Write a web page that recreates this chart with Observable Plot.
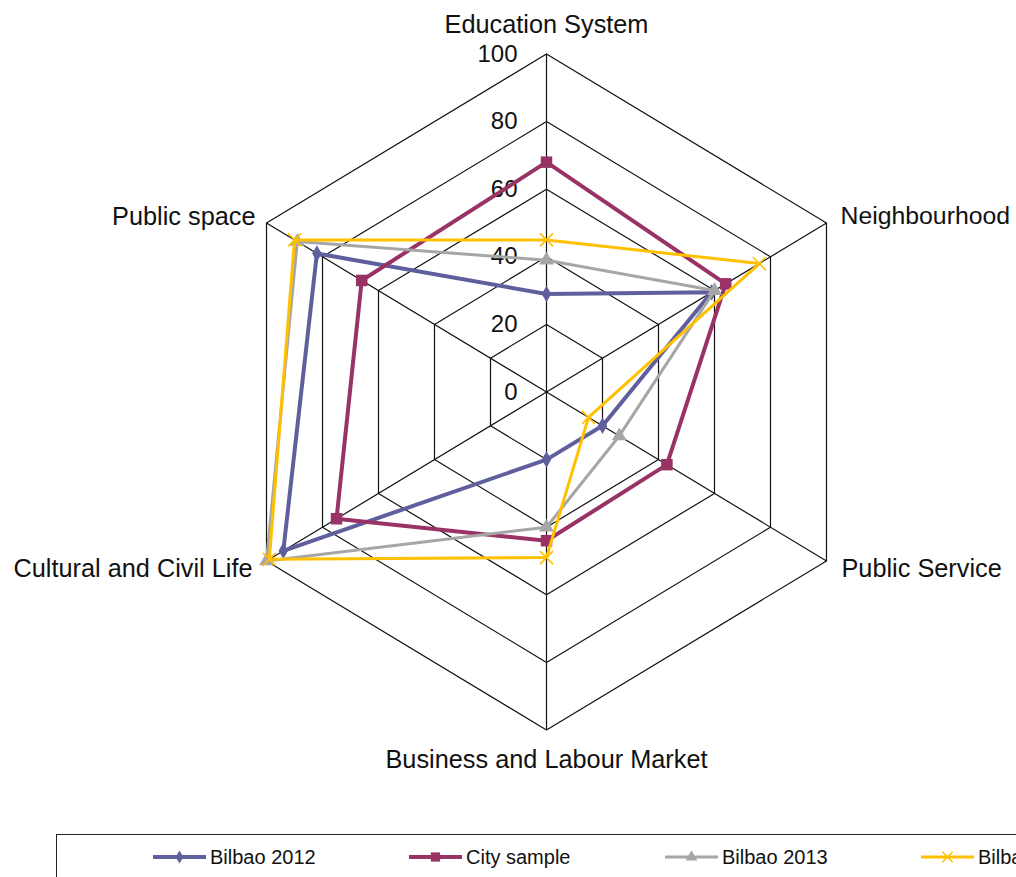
<!DOCTYPE html>
<html><head><meta charset="utf-8">
<script src="https://cdn.jsdelivr.net/npm/d3@7"></script>
<script src="https://cdn.jsdelivr.net/npm/@observablehq/plot@0.6"></script>
<style>
body{margin:0;background:#fff;font-family:"Liberation Sans",Arial,sans-serif;}
#wrap{position:relative;width:1016px;height:877px;overflow:hidden;background:#fff;}
#legendbox{position:absolute;left:56px;top:834px;width:1010px;height:70px;border:1.5px solid #222;box-sizing:border-box;}
.item{position:absolute;top:846px;height:22px;display:flex;align-items:center;font-size:20px;color:#111;white-space:nowrap;}
.item svg{display:block;margin-right:4px;flex:none;}
</style></head><body>
<div id="wrap"><div id="chart"></div><div id="legendbox"></div><div id="legend"></div></div>
<script>
const categories = ["Education System","Neighbourhood","Public Service","Business and Labour Market","Cultural and Civil Life","Public space"];
const seriesNames = ["Bilbao 2012","City sample","Bilbao 2013","Bilbao 2014"];
const bilbao2012 = [29, 59, 20, 20, 94, 82];
const citySample = [68, 64, 43, 44, 75, 66];
const bilbao2013 = [39, 60, 26, 40, 100, 89];
const bilbao2014 = [45, 76, 15, 49, 99, 90];
const tickValues = [0, 20, 40, 60, 80, 100];

const seriesValues = [bilbao2012, citySample, bilbao2013, bilbao2014];
const styles = [
  {color:"#5f5f9e", symbol:"diamond", r:5, sw:4, fill:true},
  {color:"#993366", symbol:"square", r:6.5, sw:4, fill:true},
  {color:"#a6a6a6", symbol:"triangle", r:5.5, sw:3, fill:true},
  {color:"#ffc000", symbol:"times", r:6, sw:3, fill:false}
];
const ang = i => i * Math.PI / 3;
const px = (v, i) => v * Math.sin(ang(i));
const py = (v, i) => v * Math.cos(ang(i));

const ringPts = [];
tickValues.filter(t => t > 0).forEach(t => {
  for (let k = 0; k <= categories.length; k++) {
    const i = k % categories.length;
    ringPts.push({ring: t, x: px(t, i), y: py(t, i)});
  }
});
const spokes = categories.map((c, i) => ({x2: px(100, i), y2: py(100, i)}));

const labelOffsets = [
  {dx:0, dy:-29, anchor:"middle", fs:25.3},
  {dx:14, dy:-7, anchor:"start", fs:24.8},
  {dx:15, dy:8, anchor:"start", fs:25.3},
  {dx:0, dy:30, anchor:"middle", fs:25.3},
  {dx:-14, dy:8, anchor:"end", fs:25.3},
  {dx:-11, dy:-6, anchor:"end", fs:25.3}
];

const marks = [
  Plot.line(ringPts, {x:"x", y:"y", z:"ring", stroke:"#111", strokeWidth:1.2}),
  Plot.link(spokes, {x1:0, y1:0, x2:"x2", y2:"y2", stroke:"#111", strokeWidth:1.2}),
  Plot.text(tickValues, {x:0, y:d => d, text:d => String(d), textAnchor:"end", dx:-29, fontSize:24, fill:"#111"})
];
categories.forEach((c, i) => {
  const o = labelOffsets[i];
  marks.push(Plot.text([c], {x: px(100, i), y: py(100, i), text: d => d, textAnchor: o.anchor, dx: o.dx, dy: o.dy, fontSize: o.fs, fill:"#111"}));
});
seriesValues.forEach((vals, s) => {
  const st = styles[s];
  const pts = vals.map((v, i) => ({series: seriesNames[s], cat: categories[i], x: px(v, i), y: py(v, i)}));
  marks.push(Plot.line([...pts, pts[0]], {x:"x", y:"y", stroke: st.color, strokeWidth: st.sw, strokeLinejoin:"round"}));
  marks.push(Plot.dot(pts, {x:"x", y:"y", symbol: st.symbol, r: st.r,
    fill: st.fill ? st.color : "none", stroke: st.fill ? "none" : st.color, strokeWidth: 1.6}));
});

const chart = Plot.plot({
  width: 1016, height: 834,
  marginLeft: 222.7, marginRight: 146.7, marginTop: 53.5, marginBottom: 104.5,
  x: {domain: [-100, 100], axis: null},
  y: {domain: [-100, 100], axis: null},
  style: {fontFamily: '"Liberation Sans", Arial, sans-serif', background: "#fff", overflow: "visible"},
  marks
});
document.getElementById("chart").appendChild(chart);

const legendLeft = [153, 409, 665, 921];
const legend = document.getElementById("legend");
seriesNames.forEach((name, s) => {
  const st = styles[s];
  const item = document.createElement("div");
  item.className = "item";
  item.style.left = legendLeft[s] + "px";
  const svg = d3.create("svg").attr("width", 53).attr("height", 22);
  svg.append("line").attr("x1", 0).attr("x2", 53).attr("y1", 11).attr("y2", 11)
    .attr("stroke", st.color).attr("stroke-width", st.sw);
  const symMap = {diamond: d3.symbolDiamond, square: d3.symbolSquare, triangle: d3.symbolTriangle, times: d3.symbolTimes};
  svg.append("path").attr("transform", "translate(26.5,11)")
    .attr("d", d3.symbol(symMap[st.symbol], Math.PI * (st.r * 0.8) ** 2)())
    .attr("fill", st.fill ? st.color : "none").attr("stroke", st.fill ? "none" : st.color).attr("stroke-width", 1.5);
  item.appendChild(svg.node());
  const span = document.createElement("span");
  span.textContent = name;
  item.appendChild(span);
  legend.appendChild(item);
});
</script></body></html>
